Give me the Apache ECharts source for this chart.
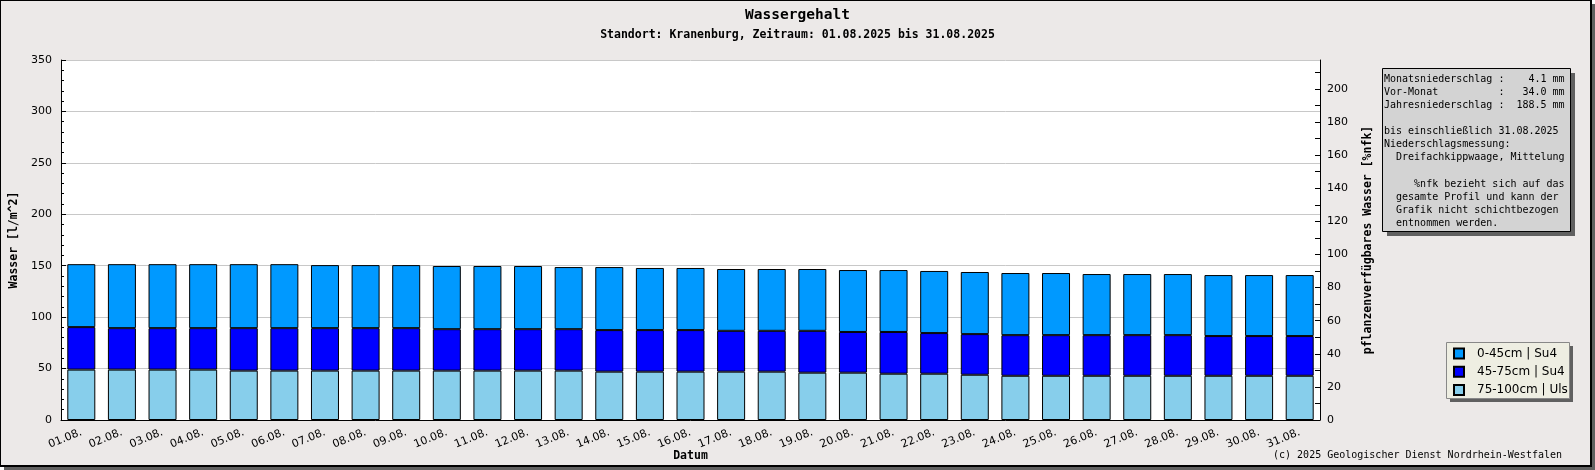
<!DOCTYPE html>
<html>
<head>
<meta charset="utf-8">
<script src="https://cdn.jsdelivr.net/npm/echarts@6/dist/echarts.min.js"></script>
<style>
  html, body { margin: 0; padding: 0; background: #fff; }
  #main { width: 1595px; height: 470px; }
</style>
</head>
<body>
<div id="main"></div>
<script>
// Tage im August 2025
const days = ['01.08.', '02.08.', '03.08.', '04.08.', '05.08.', '06.08.', '07.08.', '08.08.',
  '09.08.', '10.08.', '11.08.', '12.08.', '13.08.', '14.08.', '15.08.', '16.08.', '17.08.',
  '18.08.', '19.08.', '20.08.', '21.08.', '22.08.', '23.08.', '24.08.', '25.08.', '26.08.',
  '27.08.', '28.08.', '29.08.', '30.08.', '31.08.']

// Wasser [l/m^2] je Schicht
const layerTop = [61.2, 62.2, 62.2, 62.2, 62.2, 62.2, 61.3, 61.3, 61.3, 61.4, 61.4, 61.4, 60.4,
  61.3, 60.4, 60.4, 60.1, 60.1, 60.1, 60.2, 60.2, 60.4, 60.4, 60.4, 60.4, 59.4, 59.4, 59.4,
  59.3, 59.3, 59.3]
const layerMid = [41.3, 40.3, 40.3, 40.3, 41.3, 41.3, 41.3, 41.3, 41.3, 40.3, 40.3, 40.3, 40.3,
  40.4, 40.4, 40.4, 39.7, 39.7, 40.7, 39.6, 40.6, 39.5, 39.5, 39.5, 39.5, 39.5, 39.5, 39.5,
  38.6, 38.6, 38.6]
const layerLow = [49, 49, 49, 49, 48, 48, 48, 48, 48, 48, 48, 48, 48, 47, 47, 47, 47, 47, 46, 46,
  45, 45, 44, 43, 43, 43, 43, 43, 43, 43, 43]

const layerNames = ['0-45cm | Su4', '45-75cm | Su4', '75-100cm | Uls']

// rechte Achse %nfk
const nfkTicks = [0, 10, 20, 30, 40, 50, 60, 70, 80, 90, 100, 110, 120, 130, 140, 150, 160, 170,
  180, 190, 200, 210]
const nfkLabels = [0, 20, 40, 60, 80, 100, 120, 140, 160, 180, 200]

const infoLines = [
  'Monatsniederschlag :    4.1 mm',
  'Vor-Monat          :   34.0 mm',
  'Jahresniederschlag :  188.5 mm',
  '',
  'bis einschließlich 31.08.2025',
  'Niederschlagsmessung:',
  '  Dreifachkippwaage, Mittelung',
  '',
  '     %nfk bezieht sich auf das',
  '  gesamte Profil und kann der',
  '  Grafik nicht schichtbezogen',
  '  entnommen werden.'
]

const mono = 'DejaVu Sans Mono'
const sans = 'DejaVu Sans'
const bg = '#ECE9E8'

const chart = echarts.init(document.getElementById('main'))

const barStyle = (color) => ({ color: color, borderColor: '#000', borderWidth: 1 })

const option = {
  animation: false,
  title: {
    text: 'Wassergehalt',
    subtext: 'Standort: Kranenburg, Zeitraum: 01.08.2025 bis 31.08.2025',
    left: 'center',
    top: 8,
    itemGap: 6,
    padding: 0,
    textStyle: { fontFamily: mono, fontWeight: 'bold', fontSize: 14.5, lineHeight: 15, color: '#000' },
    subtextStyle: { fontFamily: mono, fontWeight: 'bold', fontSize: 11.5, lineHeight: 12, color: '#000' }
  },
  legend: {
    data: layerNames,
    orient: 'vertical',
    left: 1453,
    top: 347,
    padding: 0,
    itemWidth: 10,
    itemHeight: 10,
    itemGap: 5.3,
    icon: 'rect',
    textStyle: { fontFamily: sans, fontSize: 12, lineHeight: 13, color: '#000', padding: [0, 0, 0, 8] }
  },
  grid: {
    left: 61,
    right: 275,
    top: 60,
    bottom: 50,
    outerBoundsMode: 'none',
    containLabel: false,
    show: true,
    backgroundColor: '#fff',
    borderWidth: 0
  },
  xAxis: {
    type: 'category',
    data: days,
    name: 'Datum',
    nameLocation: 'middle',
    nameGap: 30,
    nameMoveOverlap: false,
    nameTextStyle: { fontFamily: mono, fontWeight: 'bold', fontSize: 11.5, color: '#000' },
    axisLine: { lineStyle: { color: '#000', width: 1 } },
    axisTick: { inside: true, length: 5, interval: 0, lineStyle: { color: '#000' } },
    axisLabel: { interval: 0, rotate: 22, margin: 12, fontFamily: sans, fontSize: 11, color: '#000' }
  },
  yAxis: [
    {
      type: 'value',
      min: 0,
      max: 350,
      interval: 50,
      name: 'Wasser [l/m^2]',
      nameLocation: 'middle',
      nameGap: 41,
      nameRotate: 90,
      nameTextStyle: { fontFamily: mono, fontWeight: 'bold', fontSize: 11.5, color: '#000' },
      axisLine: { show: true, lineStyle: { color: '#000', width: 1 } },
      axisTick: { show: true, inside: true, length: 5, lineStyle: { color: '#000' } },
      minorTick: { show: true, splitNumber: 5, length: 3, lineStyle: { color: '#000' } },
      axisLabel: { margin: 9, fontFamily: sans, fontSize: 11, color: '#000' },
      splitLine: { show: true, lineStyle: { color: '#C8C8C8', width: 1 } }
    },
    {
      type: 'value',
      position: 'right',
      min: 0,
      max: 217.5,
      name: 'pflanzenverfügbares Wasser [%nfk]',
      nameLocation: 'middle',
      nameGap: 42,
      nameRotate: 90,
      nameTextStyle: { fontFamily: mono, fontWeight: 'bold', fontSize: 11.5, color: '#000' },
      axisLine: { show: true, lineStyle: { color: '#000', width: 1 } },
      axisTick: { show: true, inside: true, length: 5, customValues: nfkTicks, lineStyle: { color: '#000' } },
      axisLabel: { margin: 7, fontFamily: sans, fontSize: 11, color: '#000', customValues: nfkLabels },
      splitLine: { show: false }
    }
  ],
  series: [
    { name: layerNames[2], type: 'bar', stack: 'w', barWidth: 28, data: layerLow, itemStyle: barStyle('#87CEEB') },
    { name: layerNames[1], type: 'bar', stack: 'w', barWidth: 28, data: layerMid, itemStyle: barStyle('#0000FF') },
    { name: layerNames[0], type: 'bar', stack: 'w', barWidth: 28, data: layerTop, itemStyle: barStyle('#0099FF') }
  ],
  graphic: [
    // Rahmen mit Schatten
    { type: 'rect', z: -10, shape: { x: 4, y: 4, width: 1591, height: 466 }, style: { fill: '#606060' } },
    { type: 'rect', z: -10, shape: { x: 0, y: 0, width: 1591, height: 466 }, style: { fill: bg, stroke: '#000', lineWidth: 2 } },
    // Infokasten
    { type: 'rect', z: 1, shape: { x: 1387, y: 73, width: 188, height: 163 }, style: { fill: '#606060' } },
    { type: 'rect', z: 1, shape: { x: 1382.5, y: 68.5, width: 188, height: 163 }, style: { fill: '#D3D3D3', stroke: '#000', lineWidth: 1 } },
    {
      type: 'text', z: 2, x: 1384, y: 73,
      style: { text: infoLines.join('\n'), font: '10px ' + mono, lineHeight: 13.05, fill: '#000', verticalAlign: 'top' }
    },
    // Legendenkasten
    { type: 'rect', z: 1, shape: { x: 1450, y: 346, width: 123, height: 56 }, style: { fill: '#606060' } },
    { type: 'rect', z: 1, shape: { x: 1446.5, y: 342.5, width: 123, height: 56 }, style: { fill: '#EEEEE2', stroke: '#888', lineWidth: 1 } },
    // Copyright
    {
      type: 'text', z: 2, x: 1562, y: 455,
      style: { text: '(c) 2025 Geologischer Dienst Nordrhein-Westfalen', font: '10px ' + mono, fill: '#000', align: 'right', verticalAlign: 'middle' }
    }
  ]
}

chart.setOption(option)
</script>
</body>
</html>
